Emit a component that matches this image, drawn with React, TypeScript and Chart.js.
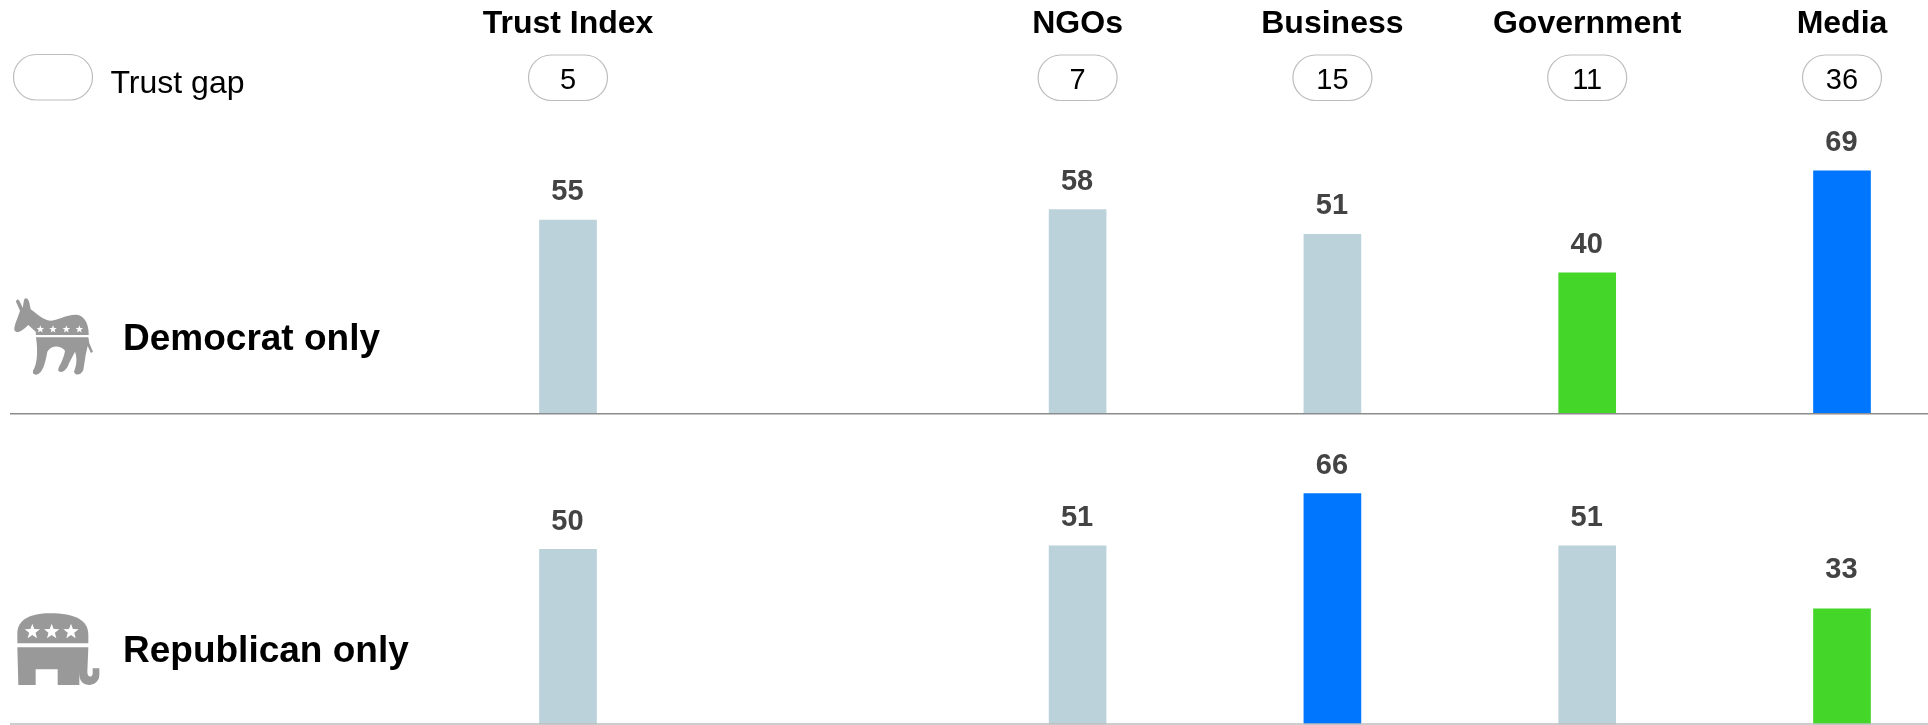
import React, { useEffect, useRef } from "react";
import { Chart, registerables } from "chart.js";

Chart.register(...registerables);

const categories = ["Trust Index", "", "NGOs", "Business", "Government", "Media"];
const trustGap = [5, null, 7, 15, 11, 36];
const democrat = [55, null, 58, 51, 40, 69];
const republican = [50, null, 51, 66, 51, 33];

const NEUTRAL = "#BCD2DA";
const GREEN = "#45D62A";
const BLUE = "#0076FF";
const democratColors = [NEUTRAL, NEUTRAL, NEUTRAL, NEUTRAL, GREEN, BLUE];
const republicanColors = [NEUTRAL, NEUTRAL, NEUTRAL, BLUE, NEUTRAL, GREEN];
const labelGaps = [
  [20, 20, 20, 20, 20, 20],
  [19.5, 19.5, 19.5, 19.5, 19.5, 30.5],
];

const FONT = '"Liberation Sans", Arial, Helvetica, sans-serif';
const ICON = "#999999";

const donkeyTop =
  "M60 92 L48 65 C50 53 58 58 63 72 L68 84 L72 60 C76 50 85 55 88 68 L92 88 C105 95 125 120 150 122 C175 122 205 100 235 105 C255 110 267 135 266 165 L108 165 L107 155 L85 135 C70 150 50 165 43 150 C42 135 55 110 60 92 Z";
const donkeyBottom =
  "M108 172 L265 172 L268 190 L279 215 L273 219 L263 198 L257 225 L250 270 C242 287 225 287 222 275 C230 255 232 235 225 215 L207 250 C200 272 185 282 175 272 C172 262 190 245 195 212 C180 195 155 195 142 215 C137 240 132 272 115 282 C105 287 95 282 100 270 C110 255 115 220 108 172 Z";
const elephantTop = "M52 130 L52 100 C52 60 90 40 150 40 C225 40 265 60 265 105 L265 130 Z";
const elephantBottom =
  "M52 142 L265 142 L262 215 C262 232 275 234 278 222 L278 205 L298 205 L298 225 C298 250 270 262 250 250 C238 242 238 225 238 208 L238 255 L173 255 L173 208 L107 208 L107 255 L55 255 Z";

function star(ctx: CanvasRenderingContext2D, cx: number, cy: number, r: number) {
  ctx.beginPath();
  for (let i = 0; i < 10; i++) {
    const rad = i % 2 === 0 ? r : r * 0.42;
    const a = -Math.PI / 2 + (i * Math.PI) / 5;
    const px = cx + rad * Math.cos(a);
    const py = cy + rad * Math.sin(a);
    if (i === 0) ctx.moveTo(px, py);
    else ctx.lineTo(px, py);
  }
  ctx.closePath();
  ctx.fill();
}

function icon(
  ctx: CanvasRenderingContext2D,
  oy: number,
  paths: string[],
  stars: number[],
  starY: number,
  starR: number
) {
  ctx.save();
  ctx.translate(0, oy);
  ctx.scale(1 / 3, 1 / 3);
  ctx.fillStyle = ICON;
  paths.forEach((p) => ctx.fill(new Path2D(p)));
  ctx.fillStyle = "#ffffff";
  stars.forEach((sx) => star(ctx, sx, starY, starR));
  ctx.restore();
}

function pill(ctx: CanvasRenderingContext2D, cx: number, top: number) {
  ctx.beginPath();
  ctx.roundRect(cx - 39.5, top, 79, 45.5, 22.7);
  ctx.fillStyle = "#ffffff";
  ctx.fill();
  ctx.strokeStyle = "#bdbdbd";
  ctx.lineWidth = 1.2;
  ctx.stroke();
}

const annotations = {
  id: "annotations",
  afterDatasetsDraw(chart: any) {
    const { ctx } = chart;
    const x = chart.scales.x;
    ctx.save();

    // baselines
    ctx.strokeStyle = "#8c8c8c";
    ctx.lineWidth = 1.5;
    ctx.beginPath();
    const y0 = chart.scales.yDem.getPixelForValue(0);
    ctx.moveTo(10, y0);
    ctx.lineTo(1928, y0);
    ctx.stroke();
    ctx.strokeStyle = "#bdbdbd";
    ctx.beginPath();
    const y1 = chart.scales.yRep.getPixelForValue(0);
    ctx.moveTo(10, y1);
    ctx.lineTo(1928, y1);
    ctx.stroke();

    // value labels
    ctx.textAlign = "center";
    ctx.textBaseline = "alphabetic";
    ctx.font = `bold 29px ${FONT}`;
    ctx.fillStyle = "#434343";
    chart.data.datasets.forEach((ds: any, d: number) => {
      const meta = chart.getDatasetMeta(d);
      ds.data.forEach((v: number | null, i: number) => {
        if (v == null) return;
        const el = meta.data[i];
        ctx.fillText(String(v), el.x - 0.5, el.y - labelGaps[d][i]);
      });
    });

    // trust gap row
    pill(ctx, 53, 54.5);
    trustGap.forEach((g, i) => {
      if (g == null) return;
      const cx = x.getPixelForValue(i);
      pill(ctx, cx, 55);
      ctx.font = `29px ${FONT}`;
      ctx.fillStyle = "#000000";
      ctx.fillText(String(g), cx, 89);
    });
    ctx.textAlign = "left";
    ctx.fillStyle = "#000000";
    ctx.font = `32px ${FONT}`;
    ctx.fillText("Trust gap", 110.5, 92.5);

    // row labels
    ctx.font = `bold 37px ${FONT}`;
    ctx.fillText("Democrat only", 123, 350);
    ctx.fillText("Republican only", 123, 661.5);

    // party icons
    icon(ctx, 280, [donkeyTop, donkeyBottom], [121, 159, 199, 238], 148, 12);
    icon(ctx, 600, [elephantTop, elephantBottom], [97, 155, 213], 95, 24);

    ctx.restore();
  },
};

export default function App() {
  const ref = useRef<HTMLCanvasElement | null>(null);

  useEffect(() => {
    const hidden = { display: false, grid: { display: false }, border: { display: false } };
    const chart = new Chart(ref.current as HTMLCanvasElement, {
      type: "bar",
      data: {
        labels: categories,
        datasets: [
          { label: "Democrat only", data: democrat, yAxisID: "yDem", backgroundColor: democratColors, clip: false },
          { label: "Republican only", data: republican, yAxisID: "yRep", backgroundColor: republicanColors, clip: false },
        ],
      } as any,
      options: {
        responsive: false,
        devicePixelRatio: 1,
        animation: false,
        layout: { padding: { left: 568, right: 86, top: 0, bottom: 1 } },
        plugins: { legend: { display: false }, tooltip: { enabled: false } },
        datasets: { bar: { barThickness: 57, grouped: false } },
        scales: {
          x: {
            position: "top",
            offset: false,
            grid: { display: false, offset: false },
            border: { display: false },
            ticks: {
              autoSkip: false,
              maxRotation: 0,
              minRotation: 0,
              padding: 4.5,
              color: "#000000",
              font: { family: FONT, size: 32, weight: "bold" },
            },
          },
          yRep: {
            position: "left",
            stack: "panels",
            stackWeight: 311,
            min: 0,
            max: 88.86,
            ...hidden,
          },
          yDem: {
            position: "left",
            stack: "panels",
            stackWeight: 359,
            min: 0,
            max: 101.84,
            ...hidden,
          },
        },
      } as any,
      plugins: [annotations],
    });
    return () => chart.destroy();
  }, []);

  return (
    <div style={{ position: "absolute", left: 0, top: 0, width: 1928, height: 725, background: "#fff" }}>
      <canvas ref={ref} width={1928} height={725} style={{ display: "block" }} />
    </div>
  );
}
